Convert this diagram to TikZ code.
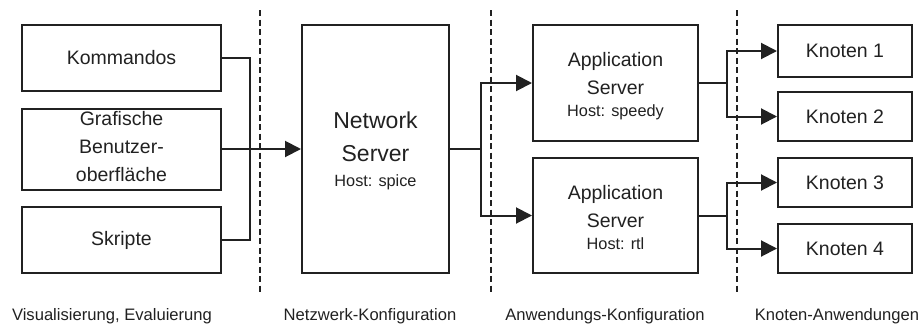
\documentclass[tikz,border=0pt]{standalone}
\usepackage{fontspec}
\setmainfont{Liberation Sans}
\usetikzlibrary{arrows.meta}
\definecolor{ink}{gray}{0.13}
\newcommand{\boxfont}{\fontsize{19.5}{28}\selectfont}
\newcommand{\bigfont}{\fontsize{23}{33}\selectfont}
\newcommand{\hostfont}{\fontsize{16.3}{22}\selectfont}
\newcommand{\capfont}{\fontsize{16.6}{20}\selectfont}
\tikzset{
  box/.style={draw=ink, line width=2pt, inner sep=0pt, anchor=center},
  lbl/.style={text=ink, align=center, inner sep=0pt, font=\boxfont},
  biglbl/.style={lbl, font=\bigfont},
  caplbl/.style={lbl, font=\capfont},
  wire/.style={draw=ink, line width=2pt},
  feed/.style={wire, -{Triangle[length=16pt,width=16pt]}},
  divider/.style={draw=ink, line width=1.6pt, dash pattern=on 6pt off 3.5pt},
}
\begin{document}
\begin{tikzpicture}[x=1pt,y=-1pt]
\useasboundingbox (0,0) rectangle (921,327);

% client side
\node[box, minimum width=199pt, minimum height=66pt] (k) at (121.5,58) {};
\node[lbl] (kt) at (k.center) {Kommandos};
\node[box, minimum width=199pt, minimum height=81pt] (g) at (121.5,149.5) {};
\node[lbl] (gt) at (121.5,147) {Grafische\\Benutzer-\\oberfläche};
\node[box, minimum width=199pt, minimum height=66pt] (s) at (121.5,240) {};
\node[lbl] (st) at (s.center) {Skripte};

% network server
\node[box, minimum width=147pt, minimum height=248pt] (ns) at (375.5,149) {};
\node[biglbl] (nst) at (375.5,151) {Network\\Server\\[-8pt]{\hostfont Host: spice}};

% application servers
\node[box, minimum width=165pt, minimum height=116pt] (a1) at (615.5,83) {};
\node[lbl] (a1t) at (615.5,86) {Application\\Server\\[-6pt]{\hostfont Host: speedy}};
\node[box, minimum width=165pt, minimum height=115pt] (a2) at (615.5,215.5) {};
\node[lbl] (a2t) at (615.5,218) {Application\\Server\\[-6pt]{\hostfont Host: rtl}};

% nodes
\node[box, minimum width=134pt, minimum height=52pt] (k1) at (845,51) {};
\node[lbl] (k1t) at (k1.center) {Knoten 1};
\node[box, minimum width=134pt, minimum height=49pt] (k2) at (845,116.5) {};
\node[lbl] (k2t) at (k2.center) {Knoten 2};
\node[box, minimum width=134pt, minimum height=49pt] (k3) at (845,182.5) {};
\node[lbl] (k3t) at (k3.center) {Knoten 3};
\node[box, minimum width=134pt, minimum height=49pt] (k4) at (845,248.5) {};
\node[lbl] (k4t) at (k4.center) {Knoten 4};

% junction points
\coordinate (jl) at (250,149);
\coordinate (jn) at (481,149);
\coordinate (ja1) at (727,83);
\coordinate (ja2) at (727,215.5);

% connectors
\draw[wire] (k.east) -| (jl) |- (s.east);
\draw[feed] (g.east |- ns.west) -- (ns.west);
\draw[wire] (ns.east) -- (jn);
\draw[feed] (jn) |- (a1.west);
\draw[feed] (jn) |- (a2.west);
\draw[wire] (a1.east) -- (ja1);
\draw[feed] (ja1) |- (k1.west);
\draw[feed] (ja1) |- (k2.west);
\draw[wire] (a2.east) -- (ja2);
\draw[feed] (ja2) |- (k3.west);
\draw[feed] (ja2) |- (k4.west);

% layer dividers
\coordinate (d1t) at (260,10); \coordinate (d1b) at (260,292);
\coordinate (d2t) at (491,10); \coordinate (d2b) at (491,292);
\coordinate (d3t) at (737,10); \coordinate (d3b) at (737,292);
\draw[divider] (d1t) -- (d1b);
\draw[divider] (d2t) -- (d2b);
\draw[divider] (d3t) -- (d3b);

% layer captions
\node[caplbl] (c1) at (112,316) {Visualisierung, Evaluierung};
\node[caplbl] (c2) at (370,316) {Netzwerk-Konfiguration};
\node[caplbl] (c3) at (605,316) {Anwendungs-Konfiguration};
\node[caplbl] (c4) at (837,316) {Knoten-Anwendungen};
\end{tikzpicture}
\end{document}
